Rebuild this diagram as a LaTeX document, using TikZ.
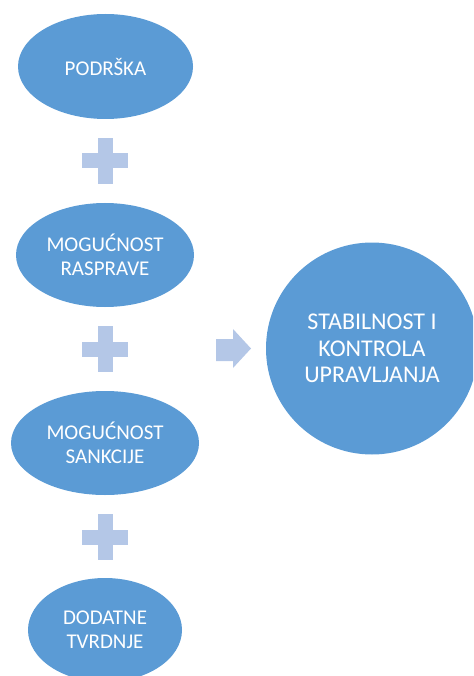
\documentclass[tikz,border=0pt]{standalone}
\usepackage{fontspec}
\setmainfont{Carlito}
\usetikzlibrary{shapes.geometric}
\definecolor{mainblue}{HTML}{5B9BD5}
\definecolor{lightblue}{HTML}{B4C7E7}
\tikzset{
  oval/.style={ellipse, fill=mainblue, draw=none, inner sep=0pt, text=white, align=center,
    font=\fontsize{21}{24}\selectfont},
  bigcircle/.style={circle, fill=mainblue, draw=none, inner sep=0pt, text=white, align=center,
    minimum size=212pt, font=\fontsize{24}{26.5}\selectfont},
  pics/plussign/.style={code={
    \fill[lightblue] (-7.5,-23) rectangle (7.5,23);
    \fill[lightblue] (-23,-7.5) rectangle (23,7.5);
  }}
}
\begin{document}
\begin{tikzpicture}[x=1pt,y=-1pt]
\useasboundingbox (0,0) rectangle (473,676);
\clip (0,0) rectangle (473,676);
\node[oval, minimum width=175pt, minimum height=105pt] (e1) at (105.5,66.5) {PODRŠKA};
\pic at (105,161) {plussign};
\node[oval, minimum width=178pt, minimum height=104pt] (e2) at (105,255) {MOGUĆNOST\\RASPRAVE};
\pic at (105,349) {plussign};
\node[oval, minimum width=188pt, minimum height=104pt] (e3) at (105,443) {MOGUĆNOST\\SANKCIJE};
\pic at (105,537) {plussign};
\node[oval, minimum width=154pt, minimum height=104pt] (e4) at (105,630) {DODATNE\\TVRDNJE};
\fill[lightblue] (216,339) -- (233,339) -- (233,329) -- (251,348.5) -- (233,368) -- (233,361) -- (216,361) -- cycle;
\node[bigcircle] (c) at (372,348.5) {STABILNOST I\\KONTROLA\\UPRAVLJANJA};
\end{tikzpicture}
\end{document}
